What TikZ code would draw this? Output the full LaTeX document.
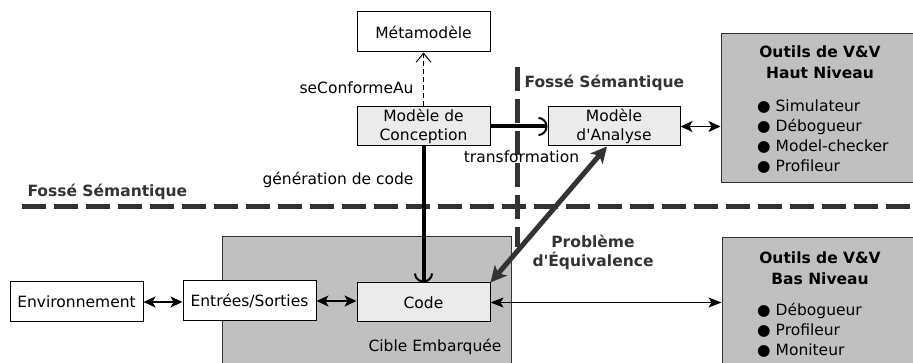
\documentclass[tikz,border=0pt]{standalone}
\usepackage{fontspec}
\setmainfont{DejaVu Sans}[Ligatures=TeXOff]
\usetikzlibrary{arrows.meta,calc}
\definecolor{boxgrey}{HTML}{C0C0C0}
\definecolor{lightbox}{HTML}{EBEBEB}
\definecolor{gapgrey}{HTML}{333333}

\begin{document}
\begin{tikzpicture}[x=1pt,y=-1pt,
  every node/.style={font=\fontsize{15.5}{19}\selectfont},
  box/.style={draw=black, line width=1pt, inner sep=0pt,
    minimum width=133pt, minimum height=40pt, align=center, fill=white},
  lightnode/.style={box, fill=lightbox},
  toolbox/.style={draw=black!80, line width=1pt, fill=boxgrey, inner sep=0pt},
  gapline/.style={draw=gapgrey, line width=5pt, dash pattern=on 24pt off 8pt},
  gaplabel/.style={font=\fontsize{15.5}{19}\selectfont\bfseries, text=gapgrey},
  title/.style={font=\fontsize{15.5}{21}\selectfont\bfseries, align=center},
  items/.style={font=\fontsize{15.5}{20}\selectfont, align=left, anchor=north west, inner sep=0pt},
  dbl/.style={line width=1.5pt, {Stealth[length=12pt,width=11pt,inset=3pt]}-{Stealth[length=12pt,width=11pt,inset=3pt]}},
  thick arc/.style={line width=4pt, -{Arc Barb[length=9pt,width=19pt,line width=2pt]}}
]
\useasboundingbox (0,0) rectangle (913,363);

% embedded target and tool panels
\node[toolbox, minimum width=289pt, minimum height=140pt] (cible) at (366.5,307) {};
\node (ciblelbl) at (435,347) {Cible Embarquée};
\node[toolbox, minimum width=198pt, minimum height=149pt] (haut) at (820,108.5) {};
\node[toolbox, minimum width=197pt, minimum height=140pt] (bas) at (820.5,308) {};

\node[title, anchor=north] (hauttitle) at (820,42) {Outils de V\&V\\Haut Niveau};
\node[items] (hautlist) at (757,100) {● Simulateur\\● Débogueur\\● Model-checker\\● Profileur};
\node[title, anchor=north] (bastitle) at (820,248) {Outils de V\&V\\Bas Niveau};
\node[items] (baslist) at (757,303) {● Débogueur\\● Profileur\\● Moniteur};

% semantic gaps
\coordinate (hgapA) at (22,207);
\coordinate (hgapB) at (916,207);
\coordinate (vgapA) at (517,67);
\coordinate (vgapB) at (517,247);
\draw[gapline] (hgapA) -- (hgapB);
\draw[gapline] (vgapA) -- (vgapB);
\node[gaplabel, anchor=west] (gapleft) at (24,192) {Fossé Sémantique};
\node[gaplabel, anchor=west] (gaptop) at (521,83) {Fossé Sémantique};

% models and code
\node[box] (meta) at (423.5,32) {Métamodèle};
\node[lightnode, minimum height=39pt] (conc) at (423.5,126.5) {Modèle de\\Conception};
\node[lightnode, minimum width=132pt, minimum height=39pt] (ana) at (614,126.5) {Modèle\\d'Analyse};
\node[lightnode, minimum height=39pt] (code) at (423.5,302.5) {Code};
\node[box] (es) at (249.5,301) {Entrées/Sorties};
\node[box] (env) at (76.5,302) {Environnement};

% connectors
\draw[line width=1pt, dash pattern=on 5pt off 3pt, -{Straight Barb[length=9pt,width=15pt]}] (conc) -- (meta);
\node[anchor=east] (conf) at (417,88) {seConformeAu};
\draw[thick arc] (conc) -- (ana);
\node (transf) at (521.5,157) {transformation};
\draw[thick arc] (conc) -- (code);
\node[anchor=east] (gen) at (417,180) {génération de code};
\draw[dbl] (ana.east) -- (ana.east -| haut.west);
\draw[dbl] (env.east) -- (env.east -| es.west);
\draw[dbl] (es.east) -- (es.east -| code.west);
\draw[line width=1pt, {Stealth[length=13pt,width=10pt,inset=3pt]}-{Stealth[length=13pt,width=10pt,inset=3pt]}] (code.east) -- (code.east -| bas.west);
\draw[gapgrey, line width=5pt, {Stealth[length=16pt,width=16pt,inset=4pt]}-{Stealth[length=16pt,width=16pt,inset=4pt]}]
  ($(ana.south west)!0.447!(ana.south east)$) -- (code.north east);
\node[gaplabel, align=center] (equiv) at (593,252) {Problème\\d'Équivalence};
\end{tikzpicture}
\end{document}
